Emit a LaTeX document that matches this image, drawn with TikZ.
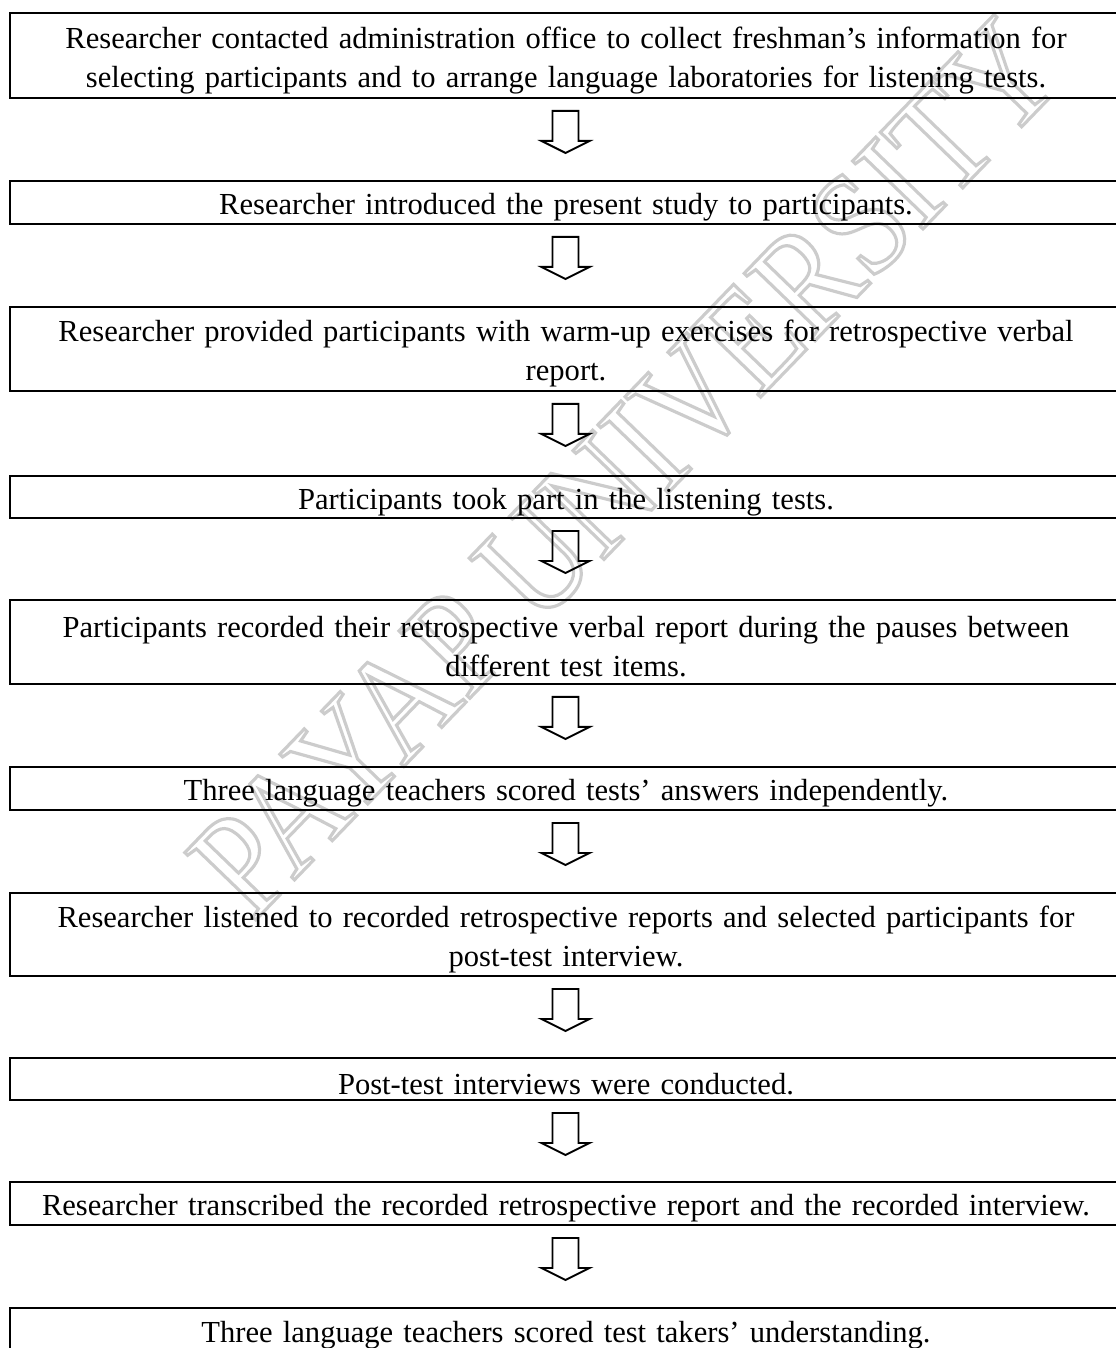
\documentclass[tikz,border=0pt]{standalone}
\usepackage{fontspec}
\setmainfont{Liberation Serif}
\newfontfamily\wmfont[FakeStretch=0.85]{Liberation Serif}
\usetikzlibrary{positioning,calc}
\tikzset{
  stepbox/.style={draw,line width=1.1pt,minimum width=22.26cm,inner sep=0pt,text width=21.8cm,align=center,
    font=\fontsize{17.4}{22.1}\selectfont,execute at begin node={\rule{0pt}{0.62cm}}},
  watermark/.style={rotate=46,text=black!20,inner sep=0pt,font=\wmfont\fontsize{85}{85}\selectfont},
  downarr/.pic={\draw[line width=1.1pt,line join=miter] (-13,0) -- (13,0) -- (13,30) -- (24,30) -- (0,42) -- (-24,30) -- (-13,30) -- cycle;}
}
\begin{document}
\begin{tikzpicture}[x=0.02cm,y=-0.02cm]
\useasboundingbox (0,0) rectangle (1115,1348);
\node[watermark] (wm) at (625,468) {\special{pdf:literal direct 1 Tr 1.8 w}PAYAP UNIVERSITY\special{pdf:literal direct 0 Tr}};
% procedure steps
\node[stepbox,minimum height=1.70cm] (b1) at (566,55.5) {Researcher contacted administration office to collect freshman's information for\\selecting participants and to arrange language laboratories for listening tests.};
\node[stepbox,minimum height=0.86cm] (b2) at (566,202.5) {Researcher introduced the present study to participants.};
\node[stepbox,minimum height=1.68cm] (b3) at (566,349) {Researcher provided participants with warm-up exercises for retrospective verbal\\report.};
\node[stepbox,minimum height=0.84cm] (b4) at (566,497) {Participants took part in the listening tests.};
\node[stepbox,minimum height=1.68cm] (b5) at (566,642) {Participants recorded their retrospective verbal report during the pauses between\\different test items.};
\node[stepbox,minimum height=0.86cm] (b6) at (566,788.5) {Three language teachers scored tests' answers independently.};
\node[stepbox,minimum height=1.66cm] (b7) at (566,934.5) {Researcher listened to recorded retrospective reports and selected participants for\\post-test interview.};
\node[stepbox,minimum height=0.84cm] (b8) at (566,1079) {Post-test interviews were conducted.};
\node[stepbox,minimum height=0.86cm] (b9) at (566,1203.5) {Researcher transcribed the recorded retrospective report and the recorded interview.};
\node[stepbox,minimum height=0.88cm] (b10) at (566,1330) {Three language teachers scored test takers' understanding.};
% hollow arrows between steps
\foreach \i in {1,...,9} \pic at ($(b\i.south)+(-0.5,12)$) {downarr};
\end{tikzpicture}
\end{document}
